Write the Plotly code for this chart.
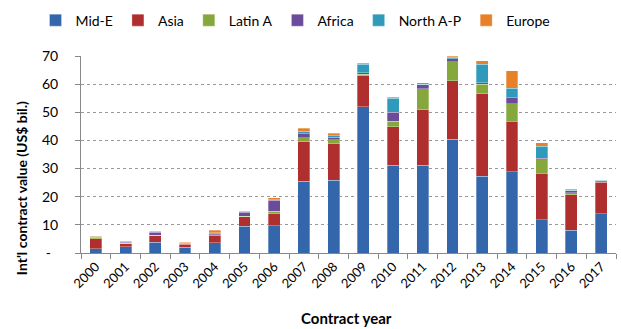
import plotly.graph_objects as go

years = [str(y) for y in range(2000, 2018)]
mid_e    = [1.5, 2.2, 3.9, 2.1, 3.7, 9.5, 9.6, 25.5, 25.8, 52.0, 31.2, 31.1, 40.4, 27.2, 28.9, 11.9, 8.1, 14.0]
asia     = [3.6, 1.1, 2.2, 1.0, 2.6, 3.3, 4.6, 14.0, 13.0, 10.9, 13.7, 19.8, 20.8, 29.3, 17.9, 16.4, 12.6, 11.1]
latin_a  = [0.3, 0.1, 0.2, 0.1, 0.2, 0.3, 0.7, 1.4, 1.4, 0.6, 1.9, 7.5, 6.8, 3.4, 6.2, 4.8, 0.7, 0.2]
africa   = [0.2, 0.5, 1.1, 0.3, 0.5, 1.4, 3.8, 1.5, 1.0, 0.5, 3.3, 1.4, 1.0, 0.6, 2.1, 0.5, 0.8, 0.4]
north_ap = [0.1, 0.1, 0.1, 0.1, 0.2, 0.1, 0.2, 0.9, 0.5, 3.1, 4.9, 0.2, 0.5, 6.6, 3.4, 4.4, 0.1, 0.2]
europe   = [0.3, 0.2, 0.2, 0.3, 0.9, 0.3, 0.7, 1.1, 0.8, 0.3, 0.4, 0.5, 0.4, 1.3, 6.3, 1.1, 0.3, 0.2]

series = [
    ("Mid-E", mid_e, "#3366AA"),
    ("Asia", asia, "#AF2F2F"),
    ("Latin A", latin_a, "#86A73B"),
    ("Africa", africa, "#6B4C9A"),
    ("North A-P", north_ap, "#2F9AB9"),
    ("Europe", europe, "#E8802A"),
]

y_ticks = [0, 10, 20, 30, 40, 50, 60, 70]
y_ticktext = ["-\u00a0\u00a0", "10", "20", "30", "40", "50", "60", "70"]

FONT = "Lato"

fig = go.Figure()
for name, vals, col in series:
    fig.add_trace(go.Bar(
        x=years, y=vals, name=name,
        marker=dict(color=col, line=dict(color="rgba(255,255,255,0.6)", width=0.5)),
    ))

fig.update_layout(
    barmode="stack",
    bargap=0.6,
    width=621, height=329,
    margin=dict(l=81, r=5, t=52, b=76),
    plot_bgcolor="white", paper_bgcolor="white",
    font=dict(family=FONT, color="#000000"),
    legend=dict(
        orientation="h", x=-0.085, xanchor="left", y=1.18, yanchor="middle",
        font=dict(family=FONT, size=14), traceorder="normal",
        itemwidth=30, bgcolor="rgba(0,0,0,0)",
    ),
    xaxis=dict(
        type="category", tickangle=-45, tickfont=dict(family=FONT, size=13),
        showline=True, linecolor="#888888", linewidth=1,
        ticks="outside", tickson="boundaries", ticklen=5, tickcolor="#888888",
        showgrid=False,
    ),
    yaxis=dict(
        range=[0, 70], tickvals=y_ticks, ticktext=y_ticktext,
        tickfont=dict(family=FONT, size=14),
        showline=True, linecolor="#888888", linewidth=1,
        ticks="outside", ticklen=5, tickcolor="#888888", ticklabelstandoff=14,
        showgrid=True, gridcolor="#999999", griddash="dot", gridwidth=1,
        zeroline=False,
    ),
    annotations=[
        dict(text="<b>Int'l contract value (US$ bil.)</b>", textangle=-90,
             xref="paper", yref="paper", x=-0.110, y=0.33,
             xanchor="center", yanchor="middle", showarrow=False,
             font=dict(family=FONT, size=14)),
        dict(text="<b>Contract year</b>", xref="paper", yref="paper",
             x=0.497, y=-0.332, xanchor="center", yanchor="middle",
             showarrow=False, font=dict(family=FONT, size=15)),
    ],
)

fig.write_html("out.html")
